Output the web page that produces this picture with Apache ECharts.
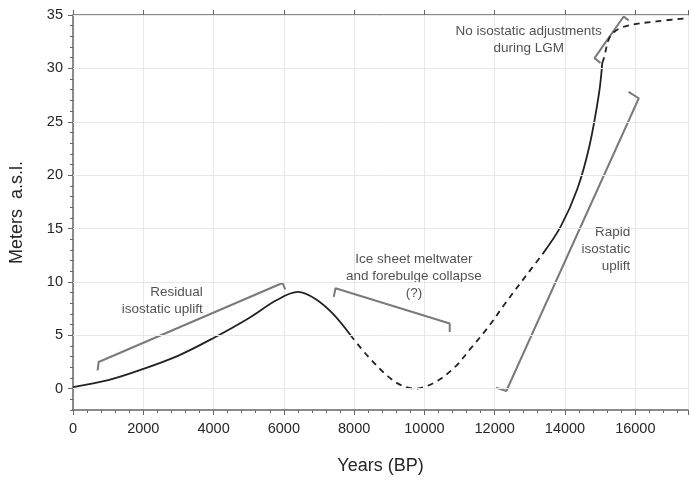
<!DOCTYPE html>
<html lang="en">
<head>
<meta charset="UTF-8">
<script src="https://cdn.jsdelivr.net/npm/echarts@6/dist/echarts.min.js"></script>
<title>Relative sea level</title>
<style>
  html, body { margin: 0; padding: 0; background: #fff; }
  #main { width: 691px; height: 480px; }
</style>
</head>
<body>
<div id="main"></div>
<script>
// curve pieces, [years BP, meters a.s.l.]
var solidHolocene = [[0, 0.15], [1000, 0.8], [2000, 1.85], [3000, 3.1], [4000, 4.75], [5000, 6.6],
    [5800, 8.3], [6400, 9.06], [6900, 8.4], [7400, 7.0], [7900, 5.0]];
var dashedCollapse = [[7900, 5.0], [8400, 3.0], [8980, 1.1], [9350, 0.3], [9730, 0], [10300, 0.6], [10860, 2.0],
    [11300, 3.7], [11800, 5.7], [12280, 7.9], [12850, 10.4], [13360, 12.6]];
var solidUplift = [[13360, 12.6], [13880, 15.2], [14350, 18.7], [14700, 22.8], [14970, 27.7], [15060, 30.5]];
var dashedLgm = [[15060, 30.5], [15110, 31.0], [15290, 33.0], [15670, 33.9], [16600, 34.4], [17500, 34.7]];

// annotation brackets
var bracketResidual = [[700, 1.7], [730, 2.5], [5960, 9.9], [6040, 9.3]];
var bracketIce = [[7420, 8.6], [7470, 9.4], [10720, 6.1], [10720, 5.3]];
var bracketRapid = [[12040, 0.1], [12330, -0.22], [16100, 27.2], [15810, 27.8]];
var bracketLgm = [[15010, 30.5], [14840, 30.96], [15670, 34.86], [15810, 34.5]];

// annotation texts: [x, y, text, align]
var notes = [
    [3690, 8.2, 'Residual\nisostatic uplift', 'right'],
    [9700, 10.5, 'Ice sheet meltwater\nand forebulge collapse\n(?)', 'center'],
    [12967, 32.7, 'No isostatic adjustments\nduring LGM', 'center'],
    [15860, 13.1, 'Rapid\nisostatic\nuplift', 'right']
];

var yMajor = [0, 5, 10, 15, 20, 25, 30, 35];

var myChart = echarts.init(document.getElementById('main'));
var axisCol = '#666';
var gridCol = '#e8e8e8';
var textCol = '#262626';

function curve(data, dashed) {
    return {
        type: 'line', data: data, symbol: 'none', smooth: 0.35, silent: true, z: 3,
        lineStyle: { color: '#222', width: 1.8, type: dashed ? [6, 5] : 'solid' }
    };
}
function bracket(data) {
    return {
        type: 'line', data: data, symbol: 'none', silent: true, z: 2,
        lineStyle: { color: '#7a7a7a', width: 2 }
    };
}

var option = {
    animation: false,
    textStyle: { fontFamily: 'Liberation Sans, Arial, sans-serif' },
    grid: { left: 72.5, right: 0, top: 15, bottom: 70 },
    xAxis: [{
        type: 'value', min: 0, max: 17500, interval: 2000,
        name: 'Years (BP)', nameLocation: 'middle', nameGap: 47,
        nameTextStyle: { fontSize: 18, color: textCol },
        axisLine: { onZero: false, lineStyle: { color: axisCol, width: 1.5 } },
        axisTick: { length: 5, lineStyle: { color: axisCol } },
        minorTick: { show: true, splitNumber: 5, length: 3, lineStyle: { color: axisCol } },
        axisLabel: { fontSize: 14.5, color: textCol, margin: 11,
            formatter: function (v) { return v > 16000 ? '' : v; } },
        splitLine: { show: true, lineStyle: { color: gridCol } }
    }, {
        type: 'value', position: 'top', min: 0, max: 17500, interval: 2000,
        axisLine: { show: true, onZero: false, lineStyle: { color: axisCol, width: 1.5 } },
        axisTick: { show: true, length: 5, lineStyle: { color: axisCol } },
        axisLabel: { show: false },
        splitLine: { show: false }
    }],
    yAxis: [{
        type: 'value', min: -2, max: 35, interval: 1,
        name: 'Meters  a.s.l.', nameLocation: 'middle', nameGap: 47,
        nameTextStyle: { fontSize: 18, color: textCol },
        axisLine: { show: true, onZero: false, lineStyle: { color: axisCol, width: 1.5 } },
        axisTick: { show: true, length: 3, lineStyle: { color: axisCol } },
        axisLabel: { fontSize: 14.5, color: textCol, margin: 10,
            formatter: function (v) { return yMajor.indexOf(v) >= 0 ? v : ''; } },
        splitLine: { show: false }
    }, {
        type: 'value', position: 'left', min: -2, max: 35,
        axisLine: { show: false, onZero: false },
        axisTick: { show: true, length: 5, customValues: yMajor, lineStyle: { color: axisCol } },
        axisLabel: { show: false },
        splitLine: { show: false }
    }],
    series: [
        {
            type: 'line', data: [], silent: true, z: 0,
            markLine: {
                silent: true, symbol: 'none', label: { show: false },
                lineStyle: { color: gridCol, width: 1, type: 'solid' },
                data: yMajor.map(function (v) { return { yAxis: v }; })
            }
        },
        curve(solidHolocene, false),
        curve(dashedCollapse, true),
        curve(solidUplift, false),
        curve(dashedLgm, true),
        bracket(bracketResidual),
        bracket(bracketIce),
        bracket(bracketRapid),
        bracket(bracketLgm),
        {
            type: 'scatter', symbolSize: 0, silent: true, z: 4,
            data: notes.map(function (n) {
                return {
                    value: [n[0], n[1]],
                    label: {
                        show: true, position: [0, 0], formatter: n[2], align: n[3],
                        verticalAlign: 'middle', fontSize: 13.5, lineHeight: 17, color: textCol
                    }
                };
            })
        }
    ]
};

myChart.setOption(option);
</script>
</body>
</html>
